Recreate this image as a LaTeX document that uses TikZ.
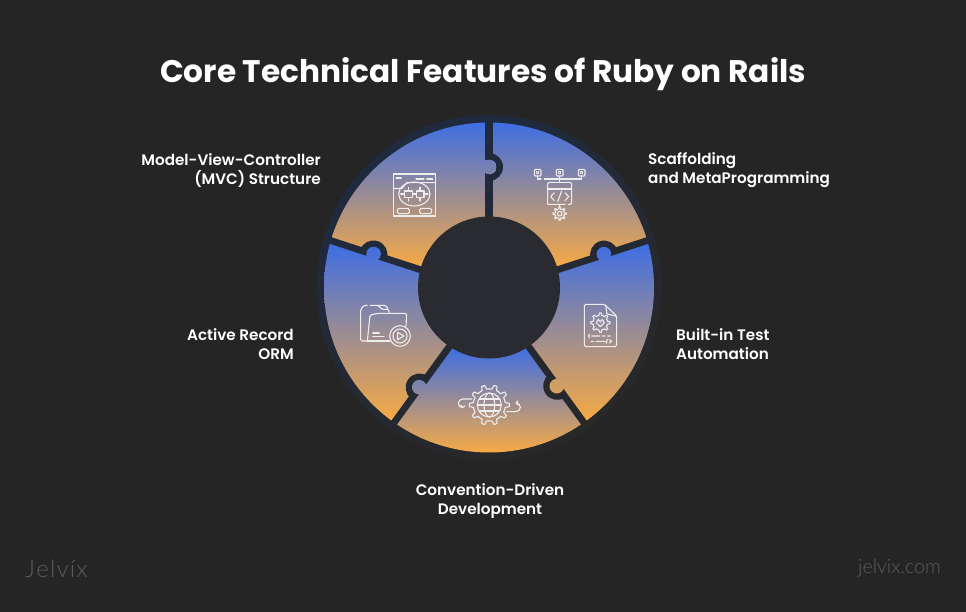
\documentclass[tikz,border=0pt]{standalone}
\usepackage{fontspec}
\setmainfont{Poppins}
\newfontfamily\thinfont{Lato Light}
\newfontfamily\semifont{Poppins SemiBold}
\usetikzlibrary{calc}
\definecolor{bgc}{HTML}{252525}
\definecolor{ringa}{HTML}{1F2A40}
\definecolor{ringb}{HTML}{282828}
\definecolor{hubc}{HTML}{2A2B30}
\definecolor{sblue}{HTML}{3F6EE2}
\definecolor{sorange}{HTML}{F6AA45}
\definecolor{logoc}{HTML}{5C5C5C}
\tikzset{
  x=1pt,y=1pt,
  wheel/.style={shift={(489,-287.5)}},
  apex/.style={shift={(489,-292)}},
  titletext/.style={text=white,font=\bfseries\fontsize{31.2}{36}\selectfont,inner sep=0pt},
  label/.style={text=white,font=\semifont\fontsize{15.2}{19}\selectfont,inner sep=0pt},
  logotext/.style={text=logoc,inner sep=0pt},
  icon/.style={draw=white!93!black,line width=1.1pt,line cap=round,line join=round,fill=none},
  zoomed/.style={x=0.33333pt,y=-0.33333pt},
}
% one sector of the wheel: start angle, end angle, gradient top, gradient bottom
\newcommand{\wheelsector}[4]{%
  \begin{scope}
    \clip[wheel] (0,0) circle[radius=165];
    \clip[apex] (0,0) -- (#1:240) -- ({(#1+#2)/2}:300) -- (#2:240) -- cycle;
    \shade[top color=sblue,bottom color=sorange] (300,-#3) rectangle (680,-#4);
  \end{scope}}
\newcommand{\darkpaint}{\shade[left color=ringa,right color=ringb,shading angle=30] (310,-465) rectangle (668,-108);}
% one joint: angle, side of the receiving sector, gradient of the owning sector, knob radius
\newcommand{\joint}[5]{%
  \begin{scope}
    \clip[wheel] (0,0) circle[radius=172];
    \clip[apex,rotate=#1] (60,-3.4) rectangle (180,3.4);
    \darkpaint
  \end{scope}
  \begin{scope}
    \clip[apex,rotate=#1,yscale=#2] ({#5-14},0) arc[start angle=180,end angle=0,radius=14] -- cycle;
    \darkpaint
  \end{scope}
  \begin{scope}
    \clip[apex,rotate=#1,yscale=#2] (#5,0.5) circle[radius=7.3];
    \shade[top color=sblue,bottom color=sorange] (300,-#3) rectangle (680,-#4);
  \end{scope}
  \begin{scope}
    \clip[apex,rotate=#1,yscale=#2] ({#5-6},-5) rectangle ({#5+6},1);
    \shade[top color=sblue,bottom color=sorange] (300,-#3) rectangle (680,-#4);
  \end{scope}}
\newcommand{\gearpath}[5]{% x y inner outer teeth
  \draw[icon] plot[domain=0:360,samples={#5*8+1}] ({#1+(#3+(#4-#3)*(cos(#5*\x)>0.1?1:0))*cos(\x)},{#2+(#3+(#4-#3)*(cos(#5*\x)>0.1?1:0))*sin(\x)}) -- cycle;}
\begin{document}
\begin{tikzpicture}
\fill[bgc] (0,-612) rectangle (966,0);
\useasboundingbox (0,-612) rectangle (966,0);

\node[titletext] (title) at (483,-74.5) {Core Technical Features of Ruby on Rails};

% ring
\begin{scope}
  \clip[wheel] (0,0) circle[radius=172.5];
  \darkpaint
\end{scope}

% sectors
\wheelsector{90}{162}{123}{267}
\wheelsector{18}{90}{123}{267}
\wheelsector{-54}{18}{245}{420}
\wheelsector{-126}{-54}{348}{452}
\wheelsector{162}{234}{245}{420}

% joints with their knobs
\joint{90}{-1}{123}{267}{125}
\joint{18}{1}{245}{420}{121}
\joint{-54}{-1}{245}{420}{116}
\joint{-126}{-1}{348}{452}{118}
\joint{162}{-1}{245}{420}{121.5}

\fill[wheel,hubc] (0,0) circle[radius=71];

% icon: MVC window
\begin{scope}[shift={(310,-110)},zoomed]
  \draw[icon] (250,192) rectangle (377,318);
  \draw[icon] (258,204) -- (274,204) (318,207) -- (342,207) (350,207) -- (368,207);
  \draw[icon] (250,235) -- (276,235) -- (290,218) -- (377,218);
  \draw[icon] (313,252) ellipse[x radius=47,y radius=36];
  \draw[icon] (284,243) rectangle (307,262) (319,243) rectangle (342,262);
  \draw[icon] (295,232) -- (295,243) (295,262) -- (295,273) (330,232) -- (330,243) (330,262) -- (330,273);
  \draw[icon] (307,252) -- (319,252) (272,252) -- (284,252) (342,252) -- (354,252);
  \draw[icon,rounded corners=1.5pt] (262,295) rectangle (298,311) (329,295) rectangle (365,311);
\end{scope}

% icon: scaffolding
\begin{scope}[shift={(485,-110)},zoomed]
  \foreach \cx in {158,224,290}{
    \draw[icon,rounded corners=1pt] (\cx-10,178) rectangle (\cx+10,198);
    \draw[icon] (\cx-3,185) rectangle (\cx+3,191);
  }
  \draw[icon] (158,198) -- (158,207) -- (168,207) (178,207) -- (215,207) -- (224,207) (224,198) -- (224,217) (224,207) -- (290,207) -- (290,198);
  \draw[icon,rounded corners=1.5pt] (188,283) -- (188,217) -- (260,217) -- (260,283) -- (250,283) (240,283) -- (188,283);
  \draw[icon] (188,237) -- (260,237);
  \draw[icon] (208,248) -- (197,260) -- (208,272) (240,248) -- (251,260) -- (240,272) (230,243) -- (218,275);
  \draw[icon] (224,283) -- (224,292);
  \gearpath{224}{311}{14}{20}{8}
  \draw[icon] (224,311) circle[radius=7];
\end{scope}

% icon: folder
\begin{scope}[shift={(310,-280)},zoomed]
  \draw[icon,rounded corners=1.5pt] (172,183) -- (152,183) -- (152,88) -- (162,76) -- (172,76) (180,76) -- (205,76) -- (215,88) -- (232,88) (198,76) -- (228,76) -- (238,97);
  \draw[icon,rounded corners=1.5pt] (172,183) -- (180,105) -- (205,100) -- (290,100) -- (288,138);
  \draw[icon] (172,183) -- (240,183);
  \draw[icon] (188,159) -- (208,159) (188,170) -- (222,170);
  \draw[icon] (270,168) circle[radius=31] (270,168) circle[radius=21];
  \draw[icon] (263,157) -- (282,168) -- (263,179) -- cycle;
\end{scope}

% icon: test document
\begin{scope}[shift={(485,-280)},zoomed]
  \draw[icon,rounded corners=1.5pt] (358,73) -- (298,73) -- (298,200) -- (395,200) -- (395,108) -- cycle;
  \draw[icon] (362,75) -- (366,102) -- (393,108);
  \gearpath{346}{128}{22}{29}{8}
  \draw[icon] (334,128) -- (340,118) -- (346,126) -- (352,118) -- (358,128) -- (346,140) -- cycle;
  \draw[icon] (314,163) -- (310,168) -- (314,173) (320,168) -- (345,168) (352,168) -- (360,168) (368,168) -- (376,168);
  \draw[icon] (318,184) -- (326,184) (333,184) -- (360,184) (367,178) -- (363,190) (373,179) -- (380,184) -- (373,189);
\end{scope}

% icon: convention globe
\begin{scope}[shift={(450,-375)},zoomed]
  \gearpath{118}{90}{48}{60}{10}
  \draw[icon] (118,90) circle[radius=36];
  \draw[icon] (118,90) ellipse[x radius=16,y radius=36];
  \draw[icon] (82,90) -- (154,90) (88,72) -- (148,72) (88,108) -- (148,108);
  \draw[icon] (66,72) -- (38,72) arc[start angle=270,end angle=90,radius=13] (38,98) -- (33,90) (38,98) -- (45,92);
  \draw[icon] (170,110) -- (198,110) arc[start angle=90,end angle=-90,radius=13] (198,84) -- (204,78) (198,84) -- (205,90);
\end{scope}

% labels
\node[label,align=right,anchor=east] (mvc) at (321,-170.5) {Model-View-Controller\\(MVC) Structure};
\node[label,align=left,anchor=west] (scaf) at (648,-170.5) {Scaffolding\\and MetaProgramming};
\node[label,align=left,anchor=west] (test) at (676,-344.5) {Built-in Test\\Automation};
\node[label,align=right,anchor=east] (orm) at (294,-344.5) {Active Record\\ORM};
\node[label,align=center] (conv) at (490,-501.5) {Convention-Driven\\Development};

% logos
\node[logotext,anchor=west,font=\thinfont\fontsize{24}{27}\selectfont] (logo) at (25,-569) {J\kern1.2pt e\kern1.2pt l\kern1.2pt v\kern1.2pt í\kern1.2pt x};
\node[logotext,anchor=east,font=\thinfont\fontsize{19.6}{22}\selectfont] (site) at (941,-568) {jelvix.com};
\end{tikzpicture}
\end{document}
